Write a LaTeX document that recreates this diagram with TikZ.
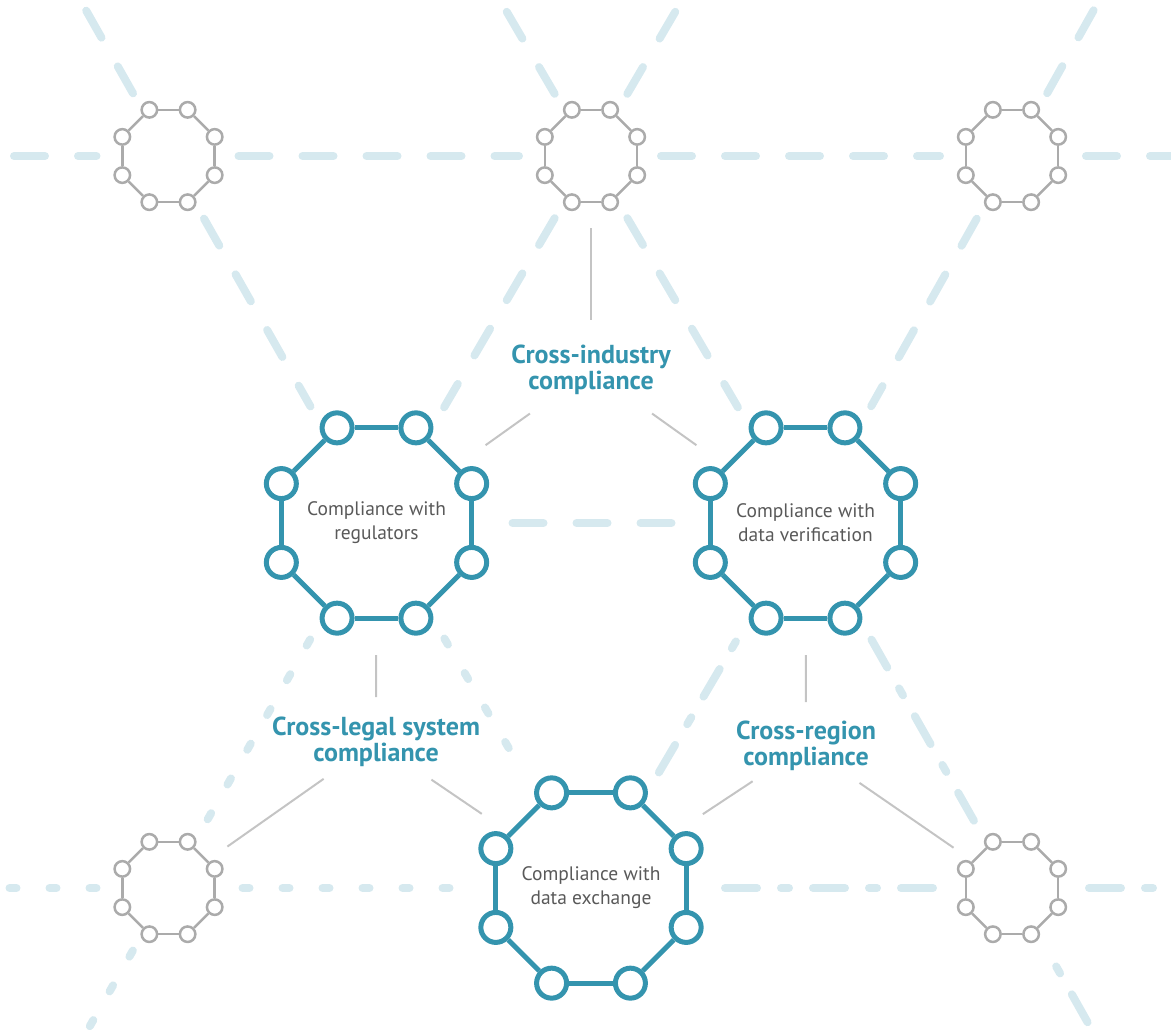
\documentclass[tikz,border=0pt]{standalone}
\usepackage{fontspec}
\setmainfont{PT Sans}
\usetikzlibrary{calc}

\definecolor{ringteal}{HTML}{3494AE}
\definecolor{ringgray}{HTML}{ABABAB}
\definecolor{lanecolor}{HTML}{D6E9EF}
\definecolor{linkgray}{HTML}{C4C4C4}
\definecolor{textgray}{HTML}{595959}

\begin{document}
\begin{tikzpicture}[x=1pt,y=-1pt,
    lane/.style={line width=8pt, line cap=round, color=lanecolor},
    longdash/.style={lane, dash pattern=on 31pt off 33pt},
    shortdash/.style={lane, dash pattern=on 7pt off 33pt},
    dashdot/.style={lane, dash pattern=on 32pt off 24pt on 8pt off 24pt},
    dotsmall/.style={circle, draw=ringgray, fill=white, line width=2.5pt, inner sep=0pt, minimum size=15.5pt},
    edgesmall/.style={draw=ringgray, line width=2.5pt},
    dotbig/.style={circle, draw=ringteal, fill=white, line width=5pt, inner sep=0pt, minimum size=30pt},
    edgebig/.style={draw=ringteal, line width=5pt},
    link/.style={draw=linkgray, line width=2pt},
    areatext/.style={align=center, text=textgray, font=\fontsize{19.5}{24}\selectfont},
    crosslabel/.style={align=center, text=ringteal, font=\fontsize{26}{26}\selectfont\bfseries}]

    % Page frame
    \clip (0,0) rectangle (1171,1029);

    % Centres of the octagons (small grey ones and large teal ones)
    \coordinate (A1) at (168.5,156);
    \coordinate (A2) at (591,156);
    \coordinate (A3) at (1012,156);
    \coordinate (B1) at (376.5,523);
    \coordinate (B2) at (805.5,523);
    \coordinate (C1) at (168.5,888);
    \coordinate (C2) at (591,888);
    \coordinate (C3) at (1012,888);

    % Points where the lanes leave the page
    \coordinate (A1w) at (14,156);
    \coordinate (A3e) at (1181,156);
    \coordinate (C1w) at (-10,888);
    \coordinate (C3e) at (1181,888);
    \coordinate (A1nw) at (74.5,-10);
    \coordinate (A2nw) at (494,-10);
    \coordinate (A2ne) at (688,-10);
    \coordinate (A3ne) at (1105,-10);
    \coordinate (C1sw) at (82.5,1039);
    \coordinate (C3se) at (1097,1039);

    % Upper lanes, long dashes
    \draw[longdash, shorten >=72pt] (A1w) -- (A1);
    \draw[longdash, shorten <=70pt, shorten >=72pt] (A1) -- (A2);
    \draw[longdash, shorten <=70pt, shorten >=72pt] (A2) -- (A3);
    \draw[longdash, shorten <=74pt] (A3) -- (A3e);
    \draw[longdash, shorten <=72pt] (A1) -- (A1nw);
    \draw[longdash, shorten <=72pt] (A2) -- (A2nw);
    \draw[longdash, shorten <=72pt] (A2) -- (A2ne);
    \draw[longdash, shorten <=72pt] (A3) -- (A3ne);
    \draw[longdash, shorten <=72pt, shorten >=134pt] (A1) -- (B1);
    \draw[longdash, shorten <=72pt, shorten >=134pt] (A2) -- (B1);
    \draw[longdash, shorten <=72pt, shorten >=134pt] (A2) -- (B2);
    \draw[longdash, shorten <=72pt, shorten >=134pt] (A3) -- (B2);
    \draw[longdash, shorten <=136pt, shorten >=124pt] (B1) -- (B2);

    % Lower left lanes, short dashes
    \draw[shortdash, shorten <=134pt, shorten >=72pt] (B1) -- (C1);
    \draw[shortdash, shorten <=134pt, shorten >=134pt] (B1) -- (C2);
    \draw[shortdash, shorten <=72pt] (C1) -- (C1w);
    \draw[shortdash, shorten <=74pt, shorten >=134pt] (C1) -- (C2);
    \draw[shortdash, shorten <=72pt] (C1) -- (C1sw);

    % Lower right lanes, dash and dot
    \draw[dashdot, shorten <=134pt, shorten >=134pt] (C2) -- (B2);
    \draw[dashdot, shorten <=134pt, shorten >=70pt] (B2) -- (C3);
    \draw[dashdot, shorten <=134pt, shorten >=72pt] (C2) -- (C3);
    \draw[dashdot, shorten <=77pt] (C3) -- (C3e);
    \draw[dashdot, dash phase=56pt, shorten <=90pt] (C3) -- (C3se);

    % Small grey octagons
    \foreach \oc in {A1,A2,A3,C1,C3} {
        \foreach \k in {1,...,8}
            \node[dotsmall] (\oc-\k) at ($(\oc)+({45*\k-22.5}:50pt)$) {};
        \foreach \k in {1,...,8} {
            \pgfmathtruncatemacro\nx{mod(\k,8)+1}
            \draw[edgesmall] (\oc-\k) -- (\oc-\nx);
        }
    }

    % Large teal octagons
    \foreach \oc in {B1,B2,C2} {
        \foreach \k in {1,...,8}
            \node[dotbig] (\oc-\k) at ($(\oc)+({45*\k-22.5}:103pt)$) {};
        \foreach \k in {1,...,8} {
            \pgfmathtruncatemacro\nx{mod(\k,8)+1}
            \draw[edgebig] (\oc-\k) -- (\oc-\nx);
        }
    }

    % Texts inside the large octagons
    \node[areatext] (regtext) at (B1) {Compliance with\\regulators};
    \node[areatext] (vertext) at (B2) {Compliance with\\data verification};
    \node[areatext] (exchtext) at (C2) {Compliance with\\data exchange};

    % Cross labels
    \node[crosslabel] (industry) at (591,370) {Cross-industry\\compliance};
    \node[crosslabel] (legal) at (376,742) {Cross-legal system\\compliance};
    \node[crosslabel] (region) at (806,746) {Cross-region\\compliance};

    % Grey links from the labels to the octagons
    \draw[link, shorten <=72pt, shorten >=50pt] (A2) -- (industry.center);
    \draw[link, shorten <=75pt, shorten >=134pt] (industry.center) -- (B1);
    \draw[link, shorten <=75pt, shorten >=134pt] (industry.center) -- (B2);
    \draw[link, shorten <=132pt, shorten >=45pt] (B1) -- (legal.center);
    \draw[link, shorten <=64pt, shorten >=72pt] (legal.center) -- (C1);
    \draw[link, shorten <=67pt, shorten >=132pt] (legal.center) -- (C2);
    \draw[link, shorten <=132pt, shorten >=44pt] (B2) -- (region.center);
    \draw[link, shorten <=64pt, shorten >=134pt] (region.center) -- (C2);
    \draw[link, shorten <=65pt, shorten >=71pt] (region.center) -- (C3);

\end{tikzpicture}
\end{document}
